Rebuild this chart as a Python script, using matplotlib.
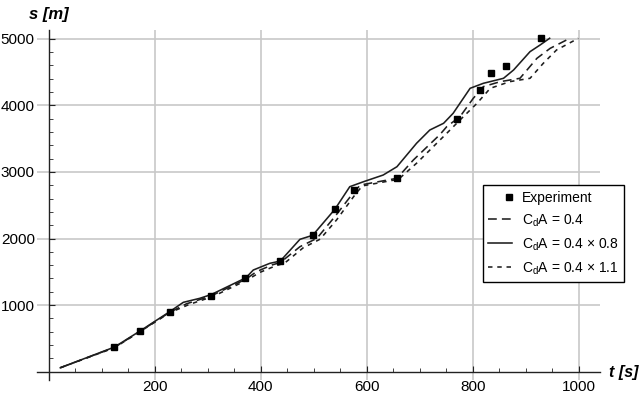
import matplotlib
matplotlib.use("Agg")
import matplotlib.pyplot as plt
from matplotlib.legend_handler import HandlerLine2D

plt.rcParams['font.family'] = ['Liberation Sans', 'DejaVu Sans']
plt.rcParams['mathtext.fontset'] = 'custom'
plt.rcParams['mathtext.rm'] = 'Liberation Sans'
plt.rcParams['mathtext.it'] = 'Liberation Sans:italic'

#-----DATA-----
exp_t = [124, 172, 228, 307, 370, 437, 498, 540, 576, 657, 771, 814, 834, 863, 928]
exp_s = [366, 606, 896, 1141, 1402, 1662, 2048, 2438, 2728, 2913, 3790, 4230, 4480, 4590, 5015]

# CdA = 0.4
base_t = [22, 124, 172, 228, 260, 307, 372, 392, 421, 437, 474, 506, 540, 576,
          588, 657, 688, 738, 751, 776, 801, 820, 852, 889, 921, 946, 983]
base_s = [60, 365, 605, 890, 1020, 1140, 1390, 1502, 1602, 1640, 1877, 2003, 2330, 2700,
          2803, 2904, 3179, 3560, 3680, 3830, 4105, 4280, 4355, 4405, 4705, 4855, 5005]

# CdA = 0.4 x 0.8
low_t = [22, 124, 172, 228, 254, 285, 307, 372, 386, 417, 437, 474, 498, 540, 568,
         594, 631, 657, 694, 719, 745, 763, 795, 820, 858, 877, 908, 927, 945]
low_s = [60, 370, 610, 900, 1042, 1102, 1160, 1410, 1527, 1627, 1662, 1988, 2048, 2440, 2778,
         2853, 2953, 3078, 3430, 3629, 3730, 3880, 4255, 4330, 4405, 4530, 4805, 4905, 5006]

# CdA = 0.4 x 1.1
high_t = [22, 124, 172, 228, 265, 310, 375, 398, 428, 445, 480, 512, 543, 580,
          592, 660, 694, 751, 776, 808, 833, 870, 908, 933, 958, 999]
high_s = [60, 360, 600, 885, 1010, 1130, 1380, 1490, 1590, 1630, 1860, 1990, 2278, 2680,
          2790, 2890, 3130, 3580, 3780, 4030, 4255, 4355, 4405, 4630, 4830, 5005]

x_major = [200, 400, 600, 800, 1000]
y_major = [1000, 2000, 3000, 4000, 5000]
#----------------------------------------

line_color = '#1e1e1e'


class RightMarkerHandler(HandlerLine2D):
    # legend marker sits at the right end of the handle, like the original
    def get_xdata(self, legend, xdescent, ydescent, width, height, fontsize):
        xdata = [-xdescent + width - 2, -xdescent + width - 2]
        return xdata, xdata


fig = plt.figure(figsize=(6.4, 3.97), dpi=100)
ax = fig.add_axes([0.0578, 0.0418, 0.8797, 0.8826])

ax.set_xlim(-22, 1040)
ax.set_ylim(-130, 5130)

exp_line, = ax.plot(exp_t, exp_s, linestyle='none', marker='s', markersize=5,
                    color='black', label='Experiment', zorder=5)
ax.plot(base_t, base_s, color=line_color, lw=1.15, dashes=(5.5, 3.2),
        label='C$_{\\rm d}$A = 0.4')
ax.plot(low_t, low_s, color=line_color, lw=1.15, linestyle='-',
        label='C$_{\\rm d}$A = 0.4 \u00d7 0.8')
ax.plot(high_t, high_s, color=line_color, lw=1.15, dashes=(2.8, 3.0),
        label='C$_{\\rm d}$A = 0.4 \u00d7 1.1')

# axes through the origin
for side in ('top', 'right'):
    ax.spines[side].set_visible(False)
ax.spines['left'].set_position(('data', 0))
ax.spines['bottom'].set_position(('data', 0))
for side in ('left', 'bottom'):
    ax.spines[side].set_color('#222222')
    ax.spines[side].set_linewidth(1.0)

ax.set_xticks(x_major)
ax.set_yticks(y_major)
ax.set_xticks(range(50, 1050, 50), minor=True)
ax.set_yticks(range(200, 5200, 200), minor=True)
ax.tick_params(axis='both', which='both', direction='in', color='#222222', labelsize=11)
ax.tick_params(axis='both', which='major', length=4)
ax.tick_params(axis='both', which='minor', length=3)
ax.tick_params(axis='x', pad=6)
ax.tick_params(axis='y', pad=10)

ax.grid(True, which='major', color='#c8c8c8', linewidth=1.2)
ax.set_axisbelow(True)

fig.text(49 / 640, 1 - 14 / 397, 's [m]', ha='center', va='center',
         fontsize=12, fontweight='bold', fontstyle='italic')
fig.text(609 / 640, 1 - 373 / 397, 't [s]', ha='left', va='center',
         fontsize=11.5, fontweight='bold', fontstyle='italic')

leg = ax.legend(loc='upper left', bbox_to_anchor=(0.7917, 0.5577), borderaxespad=0,
                fontsize=10, handlelength=1.7, handletextpad=0.7, labelspacing=0.55,
                fancybox=False, framealpha=1, edgecolor='black',
                handler_map={exp_line: RightMarkerHandler(numpoints=1)})
leg.get_frame().set_linewidth(1.0)

fig.savefig('out.png', dpi=100)
